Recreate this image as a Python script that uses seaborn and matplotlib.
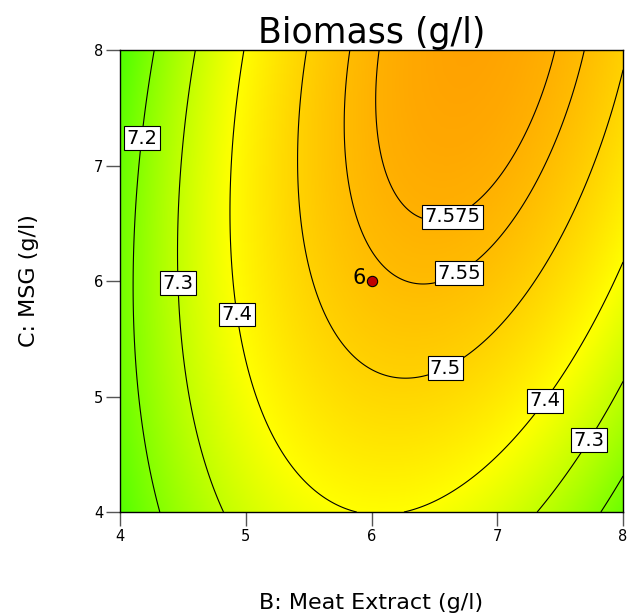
import numpy as np
import matplotlib
matplotlib.use("Agg")
import matplotlib.pyplot as plt
import seaborn as sns
from matplotlib.colors import LinearSegmentedColormap

# Quadratic response-surface model for Biomass (g/l), centred at B=6, C=6
coef_terms = ["Intercept", "B", "C", "B^2", "C^2", "BC"]
coef_values = [7.54, 0.0546, 0.0418, -0.0658, -0.0136, 0.0227]
center_point = [6.0, 6.0]

# contour levels drawn on the plot
contour_levels = [7.2, 7.3, 7.4, 7.5, 7.55, 7.575]

# design point (centre point, 6 replicates)
design_b = [6.0]
design_c = [6.0]
design_label = ["6"]

# axis ticks
b_ticks = [4, 5, 6, 7, 8]
c_ticks = [4, 5, 6, 7, 8]

# where the contour labels sit (B, C)
label_spots = [(4.14, 7.24), (4.46, 5.98), (4.92, 5.71), (6.62, 6.62),
               (6.65, 6.15), (6.55, 5.33), (7.33, 5.0), (7.69, 4.65)]

sns.set_theme(style="ticks")
plt.rcParams['font.family'] = ['DejaVu Sans']
plt.rcParams['text.color'] = 'black'
plt.rcParams['axes.labelcolor'] = 'black'

b_grid = np.linspace(4, 8, 401)
c_grid = np.linspace(4, 8, 401)
B, C = np.meshgrid(b_grid, c_grid)
u = B - center_point[0]
v = C - center_point[1]
k = dict(zip(coef_terms, coef_values))
Z = (k["Intercept"] + k["B"] * u + k["C"] * v + k["B^2"] * u ** 2
     + k["C^2"] * v ** 2 + k["BC"] * u * v)

cmap = LinearSegmentedColormap.from_list(
    "de", [(0.0, "#55ff00"), (0.57, "#ffff00"), (1.0, "#ffa200")])

fig = plt.figure(figsize=(6.3, 6.16), dpi=100)
ax = fig.add_axes([0.1905, 0.1688, 0.7985, 0.75])

ax.imshow(Z, origin="lower", extent=[4, 8, 4, 8], aspect="auto",
          cmap=cmap, vmin=7.12, vmax=7.61, interpolation="bilinear")
cs = ax.contour(B, C, Z, levels=contour_levels, colors="black", linewidths=0.8)
labels = ax.clabel(cs, fmt=lambda val: f"{val:g}", manual=label_spots,
                   inline=False, fontsize=14)
for t in labels:
    t.set_rotation(0)
    t.set_color("black")
    t.set_bbox(dict(facecolor="white", edgecolor="black",
                    boxstyle="square,pad=0.12", linewidth=0.8))
    t.set_zorder(4)

sns.scatterplot(x=design_b, y=design_c, color="#c00000", edgecolor="black",
                s=55, linewidth=0.8, ax=ax, zorder=5, legend=False)
for bx, cy, lab in zip(design_b, design_c, design_label):
    ax.annotate(lab, (bx, cy), xytext=(-4, 2), textcoords="offset points",
                ha="right", va="center", fontsize=15, color="black", zorder=6)

ax.set_xlim(4, 8)
ax.set_ylim(4, 8)
ax.set_xticks(b_ticks)
ax.set_yticks(c_ticks)
ax.tick_params(direction="out", length=10, width=1, color="#555555",
               labelsize=10.5, pad=2, labelcolor="black")
for s in ax.spines.values():
    s.set_color("black")
    s.set_linewidth(1)

ax.set_title("Biomass (g/l)", fontsize=25, pad=3, color="black")
ax.set_xlabel("B: Meat Extract (g/l)", fontsize=16)
ax.xaxis.set_label_coords(0.5, -0.197)
ax.xaxis.label.set_va("center")
ax.set_ylabel("C: MSG (g/l)", fontsize=16)
ax.yaxis.set_label_coords(-0.181, 0.5)
ax.yaxis.label.set_va("center")

fig.savefig("out.png", dpi=100)
